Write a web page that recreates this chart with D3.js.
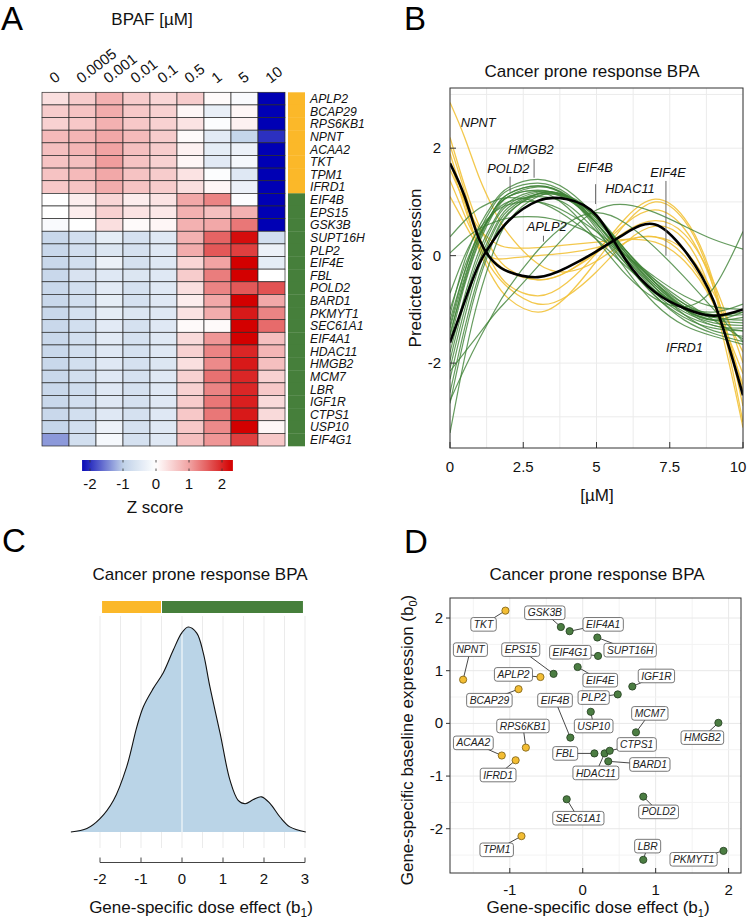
<!DOCTYPE html>
<html>
<head>
<meta charset="utf-8">
<script src="https://cdn.jsdelivr.net/npm/d3@7"></script>
<style>
body { margin: 0; background: #fff; }
svg { font-family: "Liberation Sans", Arial, sans-serif; }
</style>
</head>
<body>
<svg id="fig" width="748" height="920"></svg>
<script>
// ---- data ----
var doses = ['0', '0.0005', '0.001', '0.01', '0.1', '0.5', '1', '5', '10'];
var genes = ['APLP2', 'BCAP29', 'RPS6KB1', 'NPNT', 'ACAA2', 'TKT', 'TPM1', 'IFRD1',
  'EIF4B', 'EPS15', 'GSK3B', 'SUPT16H', 'PLP2', 'EIF4E', 'FBL', 'POLD2', 'BARD1',
  'PKMYT1', 'SEC61A1', 'EIF4A1', 'HDAC11', 'HMGB2', 'MCM7', 'LBR', 'IGF1R', 'CTPS1',
  'USP10', 'EIF4G1'];
var geneCluster = [1, 1, 1, 1, 1, 1, 1, 1, 2, 2, 2, 2, 2, 2, 2, 2, 2, 2, 2, 2, 2, 2, 2, 2, 2, 2, 2, 2];
var zScores = [
  [0.35, 0.55, 0.85, 0.55, 0.45, 0.55, 0.05, -0.1, -2.6],
  [0.55, 0.65, 0.9, 0.6, 0.5, 0.1, -0.35, 0.1, -2.6],
  [0.5, 0.6, 0.85, 0.6, 0.5, 0.3, -0.05, 0.15, -2.6],
  [0.75, 0.8, 0.95, 0.75, 0.55, 0.05, -0.45, -0.9, -2.0],
  [0.7, 0.8, 1.0, 0.7, 0.55, 0.15, -0.4, -0.3, -2.6],
  [0.65, 0.7, 1.05, 0.65, 0.5, 0.1, -0.45, -0.15, -2.6],
  [0.65, 0.75, 0.95, 0.65, 0.55, 0.3, -0.05, -0.5, -2.6],
  [0.6, 0.65, 0.9, 0.65, 0.55, 0.35, 0.1, -0.3, -2.6],
  [0.0, 0.2, 0.45, 0.2, 0.3, 0.95, 1.25, -0.05, -2.6],
  [0.0, 0.2, 0.5, 0.3, 0.25, 0.85, 0.7, 0.85, -2.6],
  [-0.1, 0.0, 0.35, 0.05, 0.1, 0.85, 0.95, 1.35, -2.6],
  [-0.85, -0.7, -0.4, -0.65, -0.5, 0.85, 1.5, 2.2, -0.7],
  [-0.85, -0.7, -0.55, -0.65, -0.5, 0.9, 1.6, 1.8, -0.3],
  [-0.85, -0.7, -0.3, -0.65, -0.5, 0.45, 1.0, 2.4, -0.4],
  [-0.85, -0.6, -0.5, -0.55, -0.5, 0.55, 1.3, 2.4, 0.0],
  [-0.85, -0.7, -0.45, -0.65, -0.5, 0.35, 1.25, 1.6, 1.65],
  [-0.85, -0.7, -0.4, -0.65, -0.5, 0.2, 0.95, 2.3, 0.95],
  [-0.85, -0.65, -0.4, -0.55, -0.5, 0.3, 0.9, 2.1, 1.25],
  [-0.85, -0.7, -0.45, -0.65, -0.5, 0.05, 0.05, 2.4, 1.45],
  [-0.85, -0.7, -0.45, -0.65, -0.5, 0.4, 1.1, 2.3, 0.7],
  [-0.85, -0.7, -0.5, -0.65, -0.5, 0.5, 1.25, 2.0, 0.8],
  [-0.85, -0.7, -0.5, -0.65, -0.55, 0.35, 1.2, 2.1, 0.7],
  [-0.85, -0.7, -0.5, -0.65, -0.5, 0.5, 1.4, 2.0, 0.5],
  [-0.85, -0.75, -0.5, -0.65, -0.5, 0.5, 1.25, 2.0, 0.6],
  [-0.85, -0.7, -0.5, -0.65, -0.5, 0.55, 1.35, 2.05, 0.4],
  [-0.85, -0.7, -0.5, -0.65, -0.5, 0.6, 1.35, 2.1, 0.4],
  [-0.9, -0.7, -0.3, -0.65, -0.5, 0.6, 1.2, 2.4, 0.1],
  [-1.35, -0.7, -0.15, -0.65, -0.5, 0.7, 1.1, 1.8, 0.6]
];
var zTicks = [-2, -1, 0, 1, 2];

// panel B: predicted expression along the dose grid
var doseGrid = [0, 0.5, 1, 1.5, 2, 3, 4, 5, 6, 7, 8, 9, 10];
var curvesYellow = [
  [2.85, 2.2, 1.45, 0.85, 0.4, -0.15, -0.3, -0.1, 0.25, 0.35, 0.0, -0.9, -2.4],
  [2.2, 1.3, 0.55, 0.05, -0.25, -0.45, -0.3, 0.1, 0.6, 0.85, 0.5, -0.6, -2.5],
  [2.05, 1.2, 0.35, -0.2, -0.55, -0.75, -0.5, 0.05, 0.7, 1.05, 0.7, -0.5, -2.8],
  [1.9, 1.0, 0.1, -0.45, -0.8, -1.05, -0.75, -0.1, 0.6, 1.0, 0.65, -0.6, -3.1],
  [1.75, 0.9, 0.15, -0.3, -0.6, -0.9, -0.75, -0.3, 0.25, 0.55, 0.3, -0.85, -3.2],
  [1.6, 1.0, 0.5, 0.25, 0.15, 0.15, 0.2, 0.25, 0.3, 0.25, -0.1, -0.9, -2.2],
  [1.4, 0.75, 0.2, -0.1, -0.3, -0.45, -0.3, 0.05, 0.45, 0.65, 0.4, -0.5, -2.0],
  [1.1, 0.6, 0.15, -0.05, -0.05, 0.0, 0.05, 0.15, 0.3, 0.35, 0.1, -0.7, -1.8]
];
var curvesGreen = [
  [-1.1, -0.1, 0.55, 1.0, 1.27, 1.42, 1.22, 0.7, 0.0, -0.6, -1.0, -1.2, -1.25],
  [-1.3, -0.3, 0.45, 0.95, 1.22, 1.35, 1.15, 0.6, -0.1, -0.7, -1.1, -1.3, -1.4],
  [-1.5, -0.45, 0.35, 0.85, 1.15, 1.3, 1.12, 0.6, -0.05, -0.65, -1.05, -1.25, -1.3],
  [-1.6, -0.55, 0.25, 0.8, 1.1, 1.28, 1.1, 0.55, -0.15, -0.75, -1.15, -1.35, -1.4],
  [-1.35, -0.4, 0.35, 0.85, 1.1, 1.22, 1.05, 0.6, 0.0, -0.55, -0.95, -1.1, -1.05],
  [-1.8, -0.75, 0.1, 0.65, 1.0, 1.2, 1.08, 0.65, 0.05, -0.5, -0.9, -1.1, -1.1],
  [-1.95, -0.85, 0.0, 0.6, 0.95, 1.18, 1.1, 0.7, 0.1, -0.45, -0.9, -1.15, -1.2],
  [-2.1, -1.0, -0.1, 0.5, 0.9, 1.15, 1.05, 0.6, -0.05, -0.6, -1.0, -1.2, -1.15],
  [-2.3, -1.15, -0.2, 0.45, 0.85, 1.15, 1.1, 0.7, 0.1, -0.5, -0.95, -1.15, -1.0],
  [-2.55, -1.35, -0.35, 0.35, 0.8, 1.12, 1.08, 0.7, 0.05, -0.55, -1.0, -1.2, -1.05],
  [-2.75, -1.5, -0.45, 0.3, 0.78, 1.15, 1.12, 0.75, 0.1, -0.5, -1.0, -1.3, -1.35],
  [-3.3, -1.9, -0.75, 0.1, 0.65, 1.1, 1.1, 0.72, 0.05, -0.6, -1.1, -1.4, -1.5],
  [-1.0, -0.2, 0.4, 0.8, 1.0, 1.1, 0.95, 0.45, -0.15, -0.75, -1.2, -1.45, -1.6],
  [-1.45, -0.5, 0.3, 0.85, 1.15, 1.3, 1.1, 0.5, -0.25, -0.9, -1.3, -1.5, -1.65],
  [0.35, 0.65, 0.88, 1.02, 1.08, 1.0, 0.72, 0.3, -0.2, -0.65, -0.95, -1.05, -0.9],
  [0.05, 0.3, 0.5, 0.62, 0.7, 0.72, 0.6, 0.35, 0.0, -0.4, -0.75, -0.95, -1.0],
  [-2.15, -1.8, -1.45, -1.1, -0.8, -0.2, 0.4, 0.85, 0.95, 0.8, 0.55, 0.3, 0.12],
  [-1.2, -0.3, 0.4, 0.85, 1.1, 1.2, 0.9, 0.3, -0.35, -0.8, -0.95, -0.6, 0.45],
  [-2.7, -2.1, -1.55, -1.05, -0.6, 0.1, 0.6, 0.8, 0.6, 0.15, -0.4, -1.0, -1.6],
  [-0.7, 0.0, 0.5, 0.8, 0.95, 1.0, 0.8, 0.45, 0.0, -0.45, -0.85, -1.2, -1.55]
];
var meanYellow = [1.72, 1.1, 0.3, -0.12, -0.3, -0.4, -0.22, 0.08, 0.42, 0.58, 0.1, -0.85, -2.6];
var meanGreen = [-1.62, -0.85, -0.15, 0.3, 0.65, 1.02, 1.05, 0.75, -0.08, -0.68, -0.98, -1.12, -1.0];
var curveLabels = [
  {gene: 'NPNT', x: 0.96, y: 2.40}, {gene: 'HMGB2', x: 2.76, y: 1.89},
  {gene: 'POLD2', x: 1.99, y: 1.54}, {gene: 'EIF4B', x: 4.95, y: 1.56},
  {gene: 'HDAC11', x: 6.14, y: 1.17}, {gene: 'EIF4E', x: 7.44, y: 1.46},
  {gene: 'APLP2', x: 3.30, y: 0.45}, {gene: 'IFRD1', x: 8.0, y: -1.79}
];
var curveLeaders = [[2.87, 1.80, 1.45], [2.05, 1.47, 1.19], [4.97, 1.33, 0.96], [7.37, 1.39, 0.0], [3.19, 0.37, 0.26]];

// panel C: density of the dose effect
var densX = [-2.71, -2.32, -2.0, -1.67, -1.35, -1.10, -0.94, -0.70, -0.46, -0.21, -0.01, 0.15, 0.36,
  0.52, 0.68, 0.93, 1.17, 1.37, 1.54, 1.74, 1.94, 2.15, 2.39, 2.63, 3.02];
var densY = [0, 0.01, 0.039, 0.093, 0.191, 0.309, 0.368, 0.421, 0.466, 0.534, 0.583, 0.601, 0.583,
  0.524, 0.426, 0.289, 0.152, 0.093, 0.083, 0.095, 0.103, 0.083, 0.044, 0.015, 0];
var clusterBreaks = [-1.95, -0.5, 2.95];

// panel D: b1 / b0 per gene (same order as genes)
var b1 = [-0.58, -0.88, -0.78, -1.64, -1.11, -1.06, -0.84, -0.92, -0.17, -0.40, -0.30, 0.20, 0.48, -0.07,
  0.16, 0.83, 0.35, 1.93, -0.22, -0.18, 0.30, 1.86, 0.73, 0.83, 0.68, 0.37, 0.11, 0.21];
var b0 = [0.88, 0.65, -0.46, 0.83, -0.61, 2.14, -2.14, -0.70, -0.27, 0.94, 1.83, 1.63, 0.55, 1.07,
  -0.57, -1.39, -0.72, -2.42, -1.44, 1.75, -0.57, 0.01, -0.17, -2.59, 0.70, -0.52, 0.22, 1.28];
var labelB1 = [-0.95, -1.28, -0.82, -1.54, -1.50, -1.36, -1.18, -1.16, -0.38, -0.85, -0.52, 0.65, 0.15, 0.24,
  -0.24, 1.04, 0.92, 1.52, -0.06, 0.28, 0.18, 1.64, 0.92, 0.89, 1.01, 0.74, 0.15, -0.17];
var labelB0 = [0.93, 0.44, -0.05, 1.40, -0.37, 1.88, -2.40, -0.98, 0.44, 1.40, 2.10, 1.39, 0.49, 0.82,
  -0.57, -1.68, -0.78, -2.58, -1.80, 1.88, -0.94, -0.27, 0.19, -2.33, 0.90, -0.40, -0.05, 1.35];

var clusterColor = {1: '#fbb829', 2: '#467f3b'};
var title = 'Cancer prone response BPA';

// ---- drawing ----
var svg = d3.select('#fig');
svg.append('rect').attr('width', 748).attr('height', 920).attr('fill', '#fff');
var defs = svg.append('defs');

function panelLetter(t, x, y) {
  svg.append('text').attr('x', x).attr('y', y).attr('font-size', 33).text(t);
}

function addText(g, x, y, txt, size, anchor) {
  return g.append('text').attr('x', x).attr('y', y).attr('font-size', size)
    .attr('text-anchor', anchor || 'middle').attr('fill', '#111').text(txt);
}

// ===== A: heatmap =====
var gA = svg.append('g');
panelLetter('A', 1, 30);
addText(gA, 152, 25, 'BPAF [\u00b5M]', 17);

var hx = d3.scaleBand().domain(doses).range([42, 285]);
var hy = d3.scaleBand().domain(genes).range([92.3, 446]);
var zColor = d3.scaleLinear()
  .domain([-2.3, -1, 0, 1, 2.3])
  .range(['#0000b4', '#bfd1e8', '#ffffff', '#f1a3a3', '#d30000'])
  .clamp(true);

var cells = [];
genes.forEach(function(g, i) {
  doses.forEach(function(d, j) {
    cells.push({gene: g, dose: d, z: zScores[i][j]});
  });
});

gA.selectAll('rect.cell')
  .data(cells)
  .enter()
  .append('rect')
  .attr('class', 'cell')
  .attr('x', function(d) { return hx(d.dose); })
  .attr('y', function(d) { return hy(d.gene); })
  .attr('width', hx.bandwidth())
  .attr('height', hy.bandwidth())
  .attr('fill', function(d) { return zColor(d.z); })
  .attr('stroke', '#2a2a2a')
  .attr('stroke-width', 0.7);

gA.selectAll('text.dose')
  .data(doses)
  .enter()
  .append('text')
  .attr('class', 'dose')
  .attr('transform', function(d) {
    return 'translate(' + (hx(d) + hx.bandwidth() / 2 - 1) + ',84) rotate(-38)';
  })
  .attr('font-size', 15)
  .attr('fill', '#111')
  .text(function(d) { return d; });

gA.selectAll('rect.side')
  .data(genes)
  .enter()
  .append('rect')
  .attr('x', 288)
  .attr('y', function(d) { return hy(d); })
  .attr('width', 17)
  .attr('height', hy.bandwidth() + 0.3)
  .attr('fill', function(d, i) { return clusterColor[geneCluster[i]]; });

gA.selectAll('text.gene')
  .data(genes)
  .enter()
  .append('text')
  .attr('x', 310)
  .attr('y', function(d) { return hy(d) + hy.bandwidth() / 2; })
  .attr('dy', '0.36em')
  .attr('font-size', 12.2)
  .attr('font-style', 'italic')
  .attr('fill', '#111')
  .text(function(d) { return d; });

// colour key
var zx = d3.scaleLinear().domain([-2, 2]).range([90, 222]);
var grad = defs.append('linearGradient').attr('id', 'zgrad');
d3.range(0, 41).forEach(function(k) {
  var v = -2.24 + k * (4.57 / 40);
  grad.append('stop').attr('offset', (k / 40 * 100) + '%').attr('stop-color', zColor(v));
});
gA.append('rect').attr('x', zx(-2.24)).attr('y', 460).attr('width', zx(2.33) - zx(-2.24))
  .attr('height', 11).attr('fill', 'url(#zgrad)');
zTicks.forEach(function(t) {
  gA.append('line').attr('x1', zx(t)).attr('x2', zx(t)).attr('y1', 460).attr('y2', 462.5)
    .attr('stroke', '#333').attr('stroke-width', 0.8);
  gA.append('line').attr('x1', zx(t)).attr('x2', zx(t)).attr('y1', 468.5).attr('y2', 471)
    .attr('stroke', '#333').attr('stroke-width', 0.8);
  addText(gA, zx(t), 489, t, 15);
});
addText(gA, 155, 513, 'Z score', 17);

// ===== B: dose response curves =====
var gB = svg.append('g');
panelLetter('B', 404, 30);
addText(gB, 592, 77, title, 17);

var bx = d3.scaleLinear().domain([0, 10]).range([450, 743]);
var by = d3.scaleLinear().domain([-3.58, 3.12]).range([448, 88]);

defs.append('clipPath').attr('id', 'clipB').append('rect')
  .attr('x', 450).attr('y', 88).attr('width', 293).attr('height', 360);

d3.range(0, 10.01, 1.25).forEach(function(v) {
  gB.append('line').attr('x1', bx(v)).attr('x2', bx(v)).attr('y1', 88).attr('y2', 448)
    .attr('stroke', '#ebebeb').attr('stroke-width', 1);
});
d3.range(-3, 3.01, 1).forEach(function(v) {
  gB.append('line').attr('x1', 450).attr('x2', 743).attr('y1', by(v)).attr('y2', by(v))
    .attr('stroke', '#ebebeb').attr('stroke-width', 1);
});

var line = d3.line()
  .x(function(d, i) { return bx(doseGrid[i]); })
  .y(function(d) { return by(d); })
  .curve(d3.curveNatural);

var curves = gB.append('g').attr('clip-path', 'url(#clipB)');
curves.selectAll('path.yel')
  .data(curvesYellow)
  .enter()
  .append('path')
  .attr('d', line)
  .attr('fill', 'none')
  .attr('stroke', '#f2c23a')
  .attr('stroke-width', 1.3)
  .attr('opacity', 0.9);
curves.selectAll('path.grn')
  .data(curvesGreen)
  .enter()
  .append('path')
  .attr('d', line)
  .attr('fill', 'none')
  .attr('stroke', '#3f8236')
  .attr('stroke-width', 1.2)
  .attr('opacity', 0.8);
curves.selectAll('path.mean')
  .data([meanYellow, meanGreen])
  .enter()
  .append('path')
  .attr('d', line)
  .attr('fill', 'none')
  .attr('stroke', '#000')
  .attr('stroke-width', 2.6);

curveLeaders.forEach(function(s) {
  gB.append('line').attr('x1', bx(s[0])).attr('x2', bx(s[0])).attr('y1', by(s[1])).attr('y2', by(s[2]))
    .attr('stroke', '#666').attr('stroke-width', 1);
});
curveLabels.forEach(function(l) {
  addText(gB, bx(l.x), by(l.y), l.gene, 12.8).attr('font-style', 'italic');
});

gB.append('rect').attr('x', 450).attr('y', 88).attr('width', 293).attr('height', 360)
  .attr('fill', 'none').attr('stroke', '#333').attr('stroke-width', 1);
[-2, 0, 2].forEach(function(v) {
  gB.append('line').attr('x1', 450).attr('x2', 456).attr('y1', by(v)).attr('y2', by(v))
    .attr('stroke', '#333');
  addText(gB, 441, by(v) + 5, v, 15, 'end');
});
[0, 2.5, 5, 7.5, 10].forEach(function(v) {
  gB.append('line').attr('x1', bx(v)).attr('x2', bx(v)).attr('y1', 448).attr('y2', 442)
    .attr('stroke', '#333');
  addText(gB, v === 10 ? 738 : bx(v), 472, v, 15);
});
addText(gB, 597, 501, '[\u00b5M]', 17);
addText(gB, 0, 0, 'Predicted expression', 17)
  .attr('transform', 'translate(421,268) rotate(-90)');

// ===== C: density =====
var gC = svg.append('g');
panelLetter('C', 2, 552);
addText(gC, 200, 580, title, 17);

var cx = d3.scaleLinear().domain([-2, 3]).range([100, 305]);
var cy = d3.scaleLinear().domain([0, 0.6]).range([832, 627.3]);

d3.range(-2, 3.01, 0.5).forEach(function(v) {
  gC.append('line').attr('x1', cx(v)).attr('x2', cx(v)).attr('y1', 616).attr('y2', 848)
    .attr('stroke', '#ebebeb').attr('stroke-width', 1);
});

gC.append('rect').attr('x', cx(clusterBreaks[0])).attr('y', 601)
  .attr('width', cx(clusterBreaks[1]) - cx(clusterBreaks[0]) - 0.5).attr('height', 12)
  .attr('fill', clusterColor[1]);
gC.append('rect').attr('x', cx(clusterBreaks[1]) + 0.5).attr('y', 601)
  .attr('width', cx(clusterBreaks[2]) - cx(clusterBreaks[1]) - 0.5).attr('height', 12)
  .attr('fill', clusterColor[2]);

var dens = densX.map(function(x, i) { return [x, densY[i]]; });
gC.append('path')
  .datum(dens)
  .attr('d', d3.area()
    .x(function(d) { return cx(d[0]); })
    .y0(cy(0))
    .y1(function(d) { return cy(d[1]); })
    .curve(d3.curveCatmullRom))
  .attr('fill', '#bad4e7');
gC.append('line').attr('x1', cx(0)).attr('x2', cx(0)).attr('y1', cy(0)).attr('y2', cy(0.58))
  .attr('stroke', '#f4f8fb').attr('stroke-width', 1.2);
gC.append('path')
  .datum(dens)
  .attr('d', d3.line()
    .x(function(d) { return cx(d[0]); })
    .y(function(d) { return cy(d[1]); })
    .curve(d3.curveCatmullRom))
  .attr('fill', 'none')
  .attr('stroke', '#111')
  .attr('stroke-width', 1.1);

gC.append('line').attr('x1', cx(-2)).attr('x2', cx(3)).attr('y1', 862.5).attr('y2', 862.5)
  .attr('stroke', '#444');
d3.range(-2, 3.01, 1).forEach(function(v) {
  gC.append('line').attr('x1', cx(v)).attr('x2', cx(v)).attr('y1', 862.5).attr('y2', 857.5)
    .attr('stroke', '#444');
  addText(gC, cx(v), 884, v, 15);
});
var cl = addText(gC, 201, 913, 'Gene-specific dose effect (b', 17);
cl.append('tspan').attr('font-size', 12).attr('dy', 4).text('1');
cl.append('tspan').attr('dy', -4).text(')');

// ===== D: b1 vs b0 scatter =====
var gD = svg.append('g');
panelLetter('D', 404, 553);
addText(gD, 597, 580, title, 17);

var dx = d3.scaleLinear().domain([-1.82, 2.17]).range([450, 741]);
var dy = d3.scaleLinear().domain([-2.84, 2.38]).range([873, 598]);

d3.range(-1.5, 2.01, 0.5).forEach(function(v) {
  gD.append('line').attr('x1', dx(v)).attr('x2', dx(v)).attr('y1', 598).attr('y2', 873)
    .attr('stroke', v % 1 === 0 ? '#e8e8e8' : '#f3f3f3').attr('stroke-width', 1);
});
d3.range(-2.5, 2.01, 0.5).forEach(function(v) {
  gD.append('line').attr('x1', 450).attr('x2', 741).attr('y1', dy(v)).attr('y2', dy(v))
    .attr('stroke', v % 1 === 0 ? '#e8e8e8' : '#f3f3f3').attr('stroke-width', 1);
});

var pts = genes.map(function(g, i) {
  return {gene: g, b1: b1[i], b0: b0[i], lx: labelB1[i], ly: labelB0[i], c: geneCluster[i]};
});

gD.selectAll('line.lead')
  .data(pts)
  .enter()
  .append('line')
  .attr('x1', function(d) { return dx(d.b1); })
  .attr('y1', function(d) { return dy(d.b0); })
  .attr('x2', function(d) { return dx(d.lx); })
  .attr('y2', function(d) { return dy(d.ly); })
  .attr('stroke', '#333')
  .attr('stroke-width', 0.9);

gD.selectAll('circle')
  .data(pts)
  .enter()
  .append('circle')
  .attr('cx', function(d) { return dx(d.b1); })
  .attr('cy', function(d) { return dy(d.b0); })
  .attr('r', 3.6)
  .attr('fill', function(d) { return d.c === 1 ? '#f3bd33' : '#4b7d42'; })
  .attr('stroke', function(d) { return d.c === 1 ? '#86691c' : '#2a4626'; })
  .attr('stroke-width', 0.9);

var labs = gD.selectAll('g.lab')
  .data(pts)
  .enter()
  .append('g')
  .attr('transform', function(d) { return 'translate(' + dx(d.lx) + ',' + dy(d.ly) + ')'; });
labs.append('rect');
labs.append('text')
  .attr('text-anchor', 'middle')
  .attr('dy', '0.35em')
  .attr('font-size', 10.3)
  .attr('font-style', 'italic')
  .attr('fill', '#222')
  .text(function(d) { return d.gene; });
labs.each(function() {
  var w = d3.select(this).select('text').node().getComputedTextLength();
  d3.select(this).select('rect')
    .attr('x', -w / 2 - 3).attr('y', -6.8)
    .attr('width', w + 6).attr('height', 13.6)
    .attr('rx', 2.5)
    .attr('fill', '#fff')
    .attr('stroke', '#555')
    .attr('stroke-width', 0.8);
});

gD.append('rect').attr('x', 450).attr('y', 598).attr('width', 291).attr('height', 275)
  .attr('fill', 'none').attr('stroke', '#333').attr('stroke-width', 1);
[-2, -1, 0, 1, 2].forEach(function(v) {
  gD.append('line').attr('x1', 446).attr('x2', 450).attr('y1', dy(v)).attr('y2', dy(v))
    .attr('stroke', '#333');
  addText(gD, 443, dy(v) + 5, v, 15, 'end');
});
[-1, 0, 1, 2].forEach(function(v) {
  gD.append('line').attr('x1', dx(v)).attr('x2', dx(v)).attr('y1', 873).attr('y2', 868)
    .attr('stroke', '#333');
  addText(gD, dx(v), 895, v, 15);
});
var dxl = addText(gD, 598, 913, 'Gene-specific dose effect (b', 17);
dxl.append('tspan').attr('font-size', 11).attr('dy', 4).text('1');
dxl.append('tspan').attr('dy', -4).text(')');
var dyl = addText(gD, 0, 0, 'Gene-specific baseline expression (b', 17)
  .attr('transform', 'translate(413,740) rotate(-90)');
dyl.append('tspan').attr('font-size', 11).attr('dy', 4).text('0');
dyl.append('tspan').attr('dy', -4).text(')');
</script>
</body>
</html>
